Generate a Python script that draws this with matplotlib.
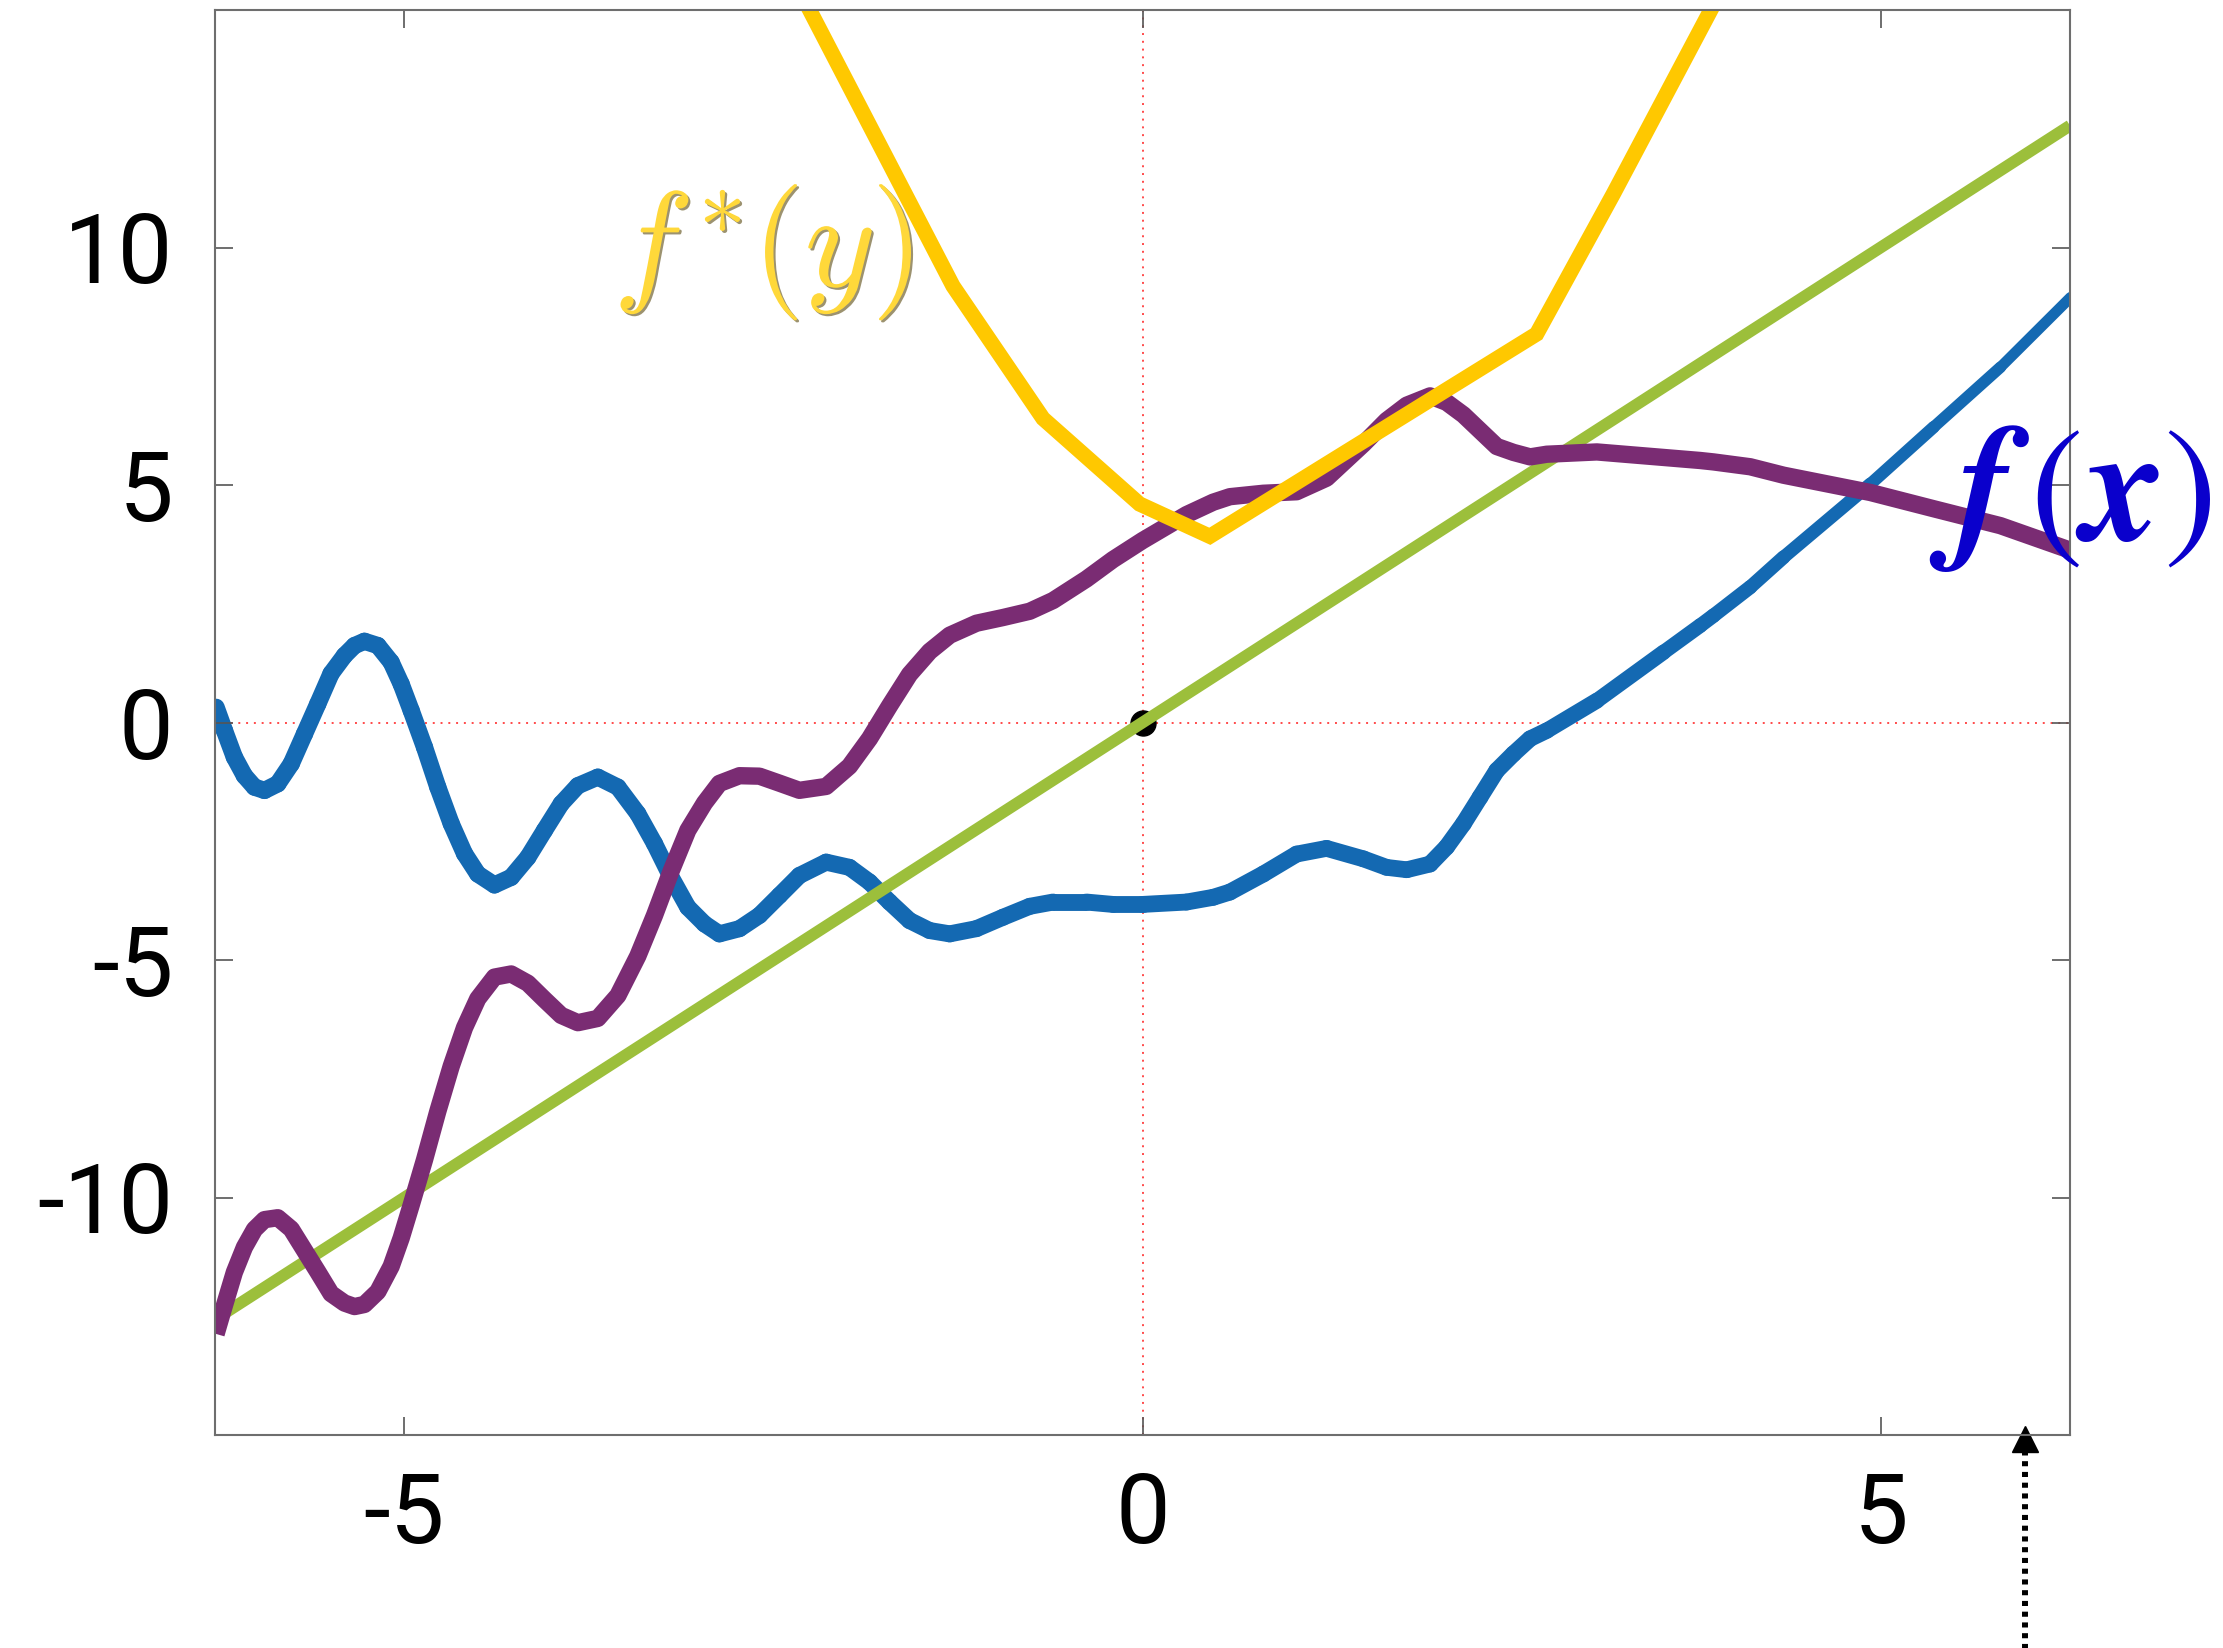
import numpy as np
import matplotlib
matplotlib.use('Agg')
import matplotlib.pyplot as plt
import matplotlib.patheffects as pe
from matplotlib.collections import LineCollection
from matplotlib.transforms import blended_transform_factory

# blue curve f(x)
x_vals = [-6.276, -6.219, -6.152, -6.084, -6.016, -5.948, -5.858, -5.767, -5.677, -5.587,
          -5.497, -5.406, -5.338, -5.271, -5.18, -5.09, -5.022, -4.954, -4.864, -4.774,
          -4.683, -4.593, -4.503, -4.39, -4.277, -4.164, -4.051, -3.938, -3.825, -3.69,
          -3.554, -3.419, -3.306, -3.193, -3.08, -2.967, -2.866, -2.73, -2.595, -2.459,
          -2.324, -2.143, -1.985, -1.849, -1.713, -1.578, -1.442, -1.306, -1.125, -0.945,
          -0.764, -0.606, -0.38, -0.2, 0.0, 0.298, 0.479, 0.592, 0.818, 1.044,
          1.247, 1.496, 1.654, 1.79, 1.948, 2.06, 2.174, 2.287, 2.4, 2.513,
          2.626, 2.739, 3.078, 3.53, 3.778, 3.868, 4.117, 4.343, 4.931, 5.36,
          5.812, 6.287]
f_vals = [0.32, -0.17, -0.73, -1.12, -1.36, -1.43, -1.29, -0.87, -0.24, 0.39,
          1.03, 1.41, 1.62, 1.71, 1.62, 1.27, 0.81, 0.25, -0.52, -1.36,
          -2.13, -2.76, -3.19, -3.42, -3.26, -2.84, -2.27, -1.71, -1.33, -1.15,
          -1.36, -1.92, -2.55, -3.26, -3.89, -4.24, -4.45, -4.34, -4.06, -3.64,
          -3.22, -2.94, -3.05, -3.36, -3.78, -4.17, -4.38, -4.45, -4.34, -4.10,
          -3.87, -3.78, -3.78, -3.83, -3.83, -3.78, -3.68, -3.57, -3.19, -2.77,
          -2.65, -2.87, -3.05, -3.10, -2.98, -2.62, -2.13, -1.57, -1.01, -0.66,
          -0.34, -0.17, 0.46, 1.48, 2.04, 2.25, 2.85, 3.48, 5.02, 6.22,
          7.48, 8.95]

# slope of the green line through the origin
y_slope = 2.0

# yellow curve f*(y): corner points
conj_y = [-2.255, -1.284, -0.674, -0.02, 0.456, 2.67, 3.19, 3.85]
conj_val = [15.0, 9.19, 6.40, 4.60, 3.92, 8.18, 11.13, 15.0]

x_ticks = [-5, 0, 5]
y_ticks = [-10, -5, 0, 5, 10]
arrow_x = 5.98

plt.rcParams['font.family'] = ['Roboto', 'DejaVu Sans']
plt.rcParams['axes.unicode_minus'] = False

fig = plt.figure(figsize=(22.23, 16.48), dpi=100)
ax = fig.add_axes([215 / 2223, 1 - 1435 / 1648, 1855 / 2223, 1425 / 1648])

x = np.array(x_vals)
f = np.array(f_vals)
xlim = (-2 * np.pi, 2 * np.pi)

# red dotted axes through the origin
ax.axhline(0, color='#FF4A4A', lw=1.4, ls=(0, (1, 3)), zorder=0.5)
ax.axvline(0, color='#FF4A4A', lw=1.4, ls=(0, (1, 3)), zorder=0.5)

# f(x) in blue, thinner towards the right end
pts = np.column_stack([x, f])
segs = np.stack([pts[:-1], pts[1:]], axis=1)
mid = (x[:-1] + x[1:]) / 2
widths = np.interp(mid, [-7, 2.5, 6.3], [12.5, 12, 7.5])
lc = LineCollection(segs, colors='#1469B2', linewidths=widths, capstyle='round', zorder=1)
ax.add_collection(lc)

# point at the origin
ax.plot([0], [0], 'o', color='k', ms=18, zorder=1.5)

# green line y*x
gx = np.array(xlim)
ax.plot(gx, y_slope * gx, color='#9CBF3B', lw=8.5, solid_capstyle='butt', zorder=2)

# purple: y*x - f(x)
ax.plot(x, y_slope * x - f, color='#7A2C73', lw=12.5, solid_joinstyle='round',
        solid_capstyle='butt', zorder=2.2)

# yellow: f*(y)
ax.plot(conj_y, conj_val, color='#FFC800', lw=11, solid_joinstyle='miter', zorder=2.4)

ax.text(-2.57, 9.9, r'$f^{\!*}\!(y)$', color='#FFD83A', fontsize=98, ha='center', va='center',
        math_fontfamily='cm', zorder=4,
        path_effects=[pe.withSimplePatchShadow(offset=(1.5, -1.5), shadow_rgbFace='#5a4a10', alpha=0.6)])
ax.text(2 * np.pi, 4.75, r'$\mathbfit{f}\,(\mathbfit{x})$', color='#0A00CC', fontsize=116,
        ha='center', va='center', math_fontfamily='stix', clip_on=False, zorder=4)

# dotted arrow under the x axis
trans = blended_transform_factory(ax.transData, ax.transAxes)
ax.plot([arrow_x, arrow_x], [-0.16, -0.012], transform=trans, clip_on=False, color='k',
        lw=4.3, dashes=(0.85, 0.95), dash_capstyle='butt')
ax.plot([arrow_x], [-0.0025], marker='^', ms=19, color='k', transform=trans, clip_on=False)

ax.set_xlim(*xlim)
ax.set_ylim(-15, 15)
ax.set_xticks(x_ticks)
ax.set_yticks(y_ticks)
ax.tick_params(direction='in', length=13, width=1.2, color='#555555', top=True, right=True,
               labelsize=70)
ax.tick_params(axis='x', pad=26)
ax.tick_params(axis='y', pad=30)
for s in ax.spines.values():
    s.set_color('#6E6E6E')
    s.set_linewidth(1.5)

fig.savefig('out.png', dpi=100)
